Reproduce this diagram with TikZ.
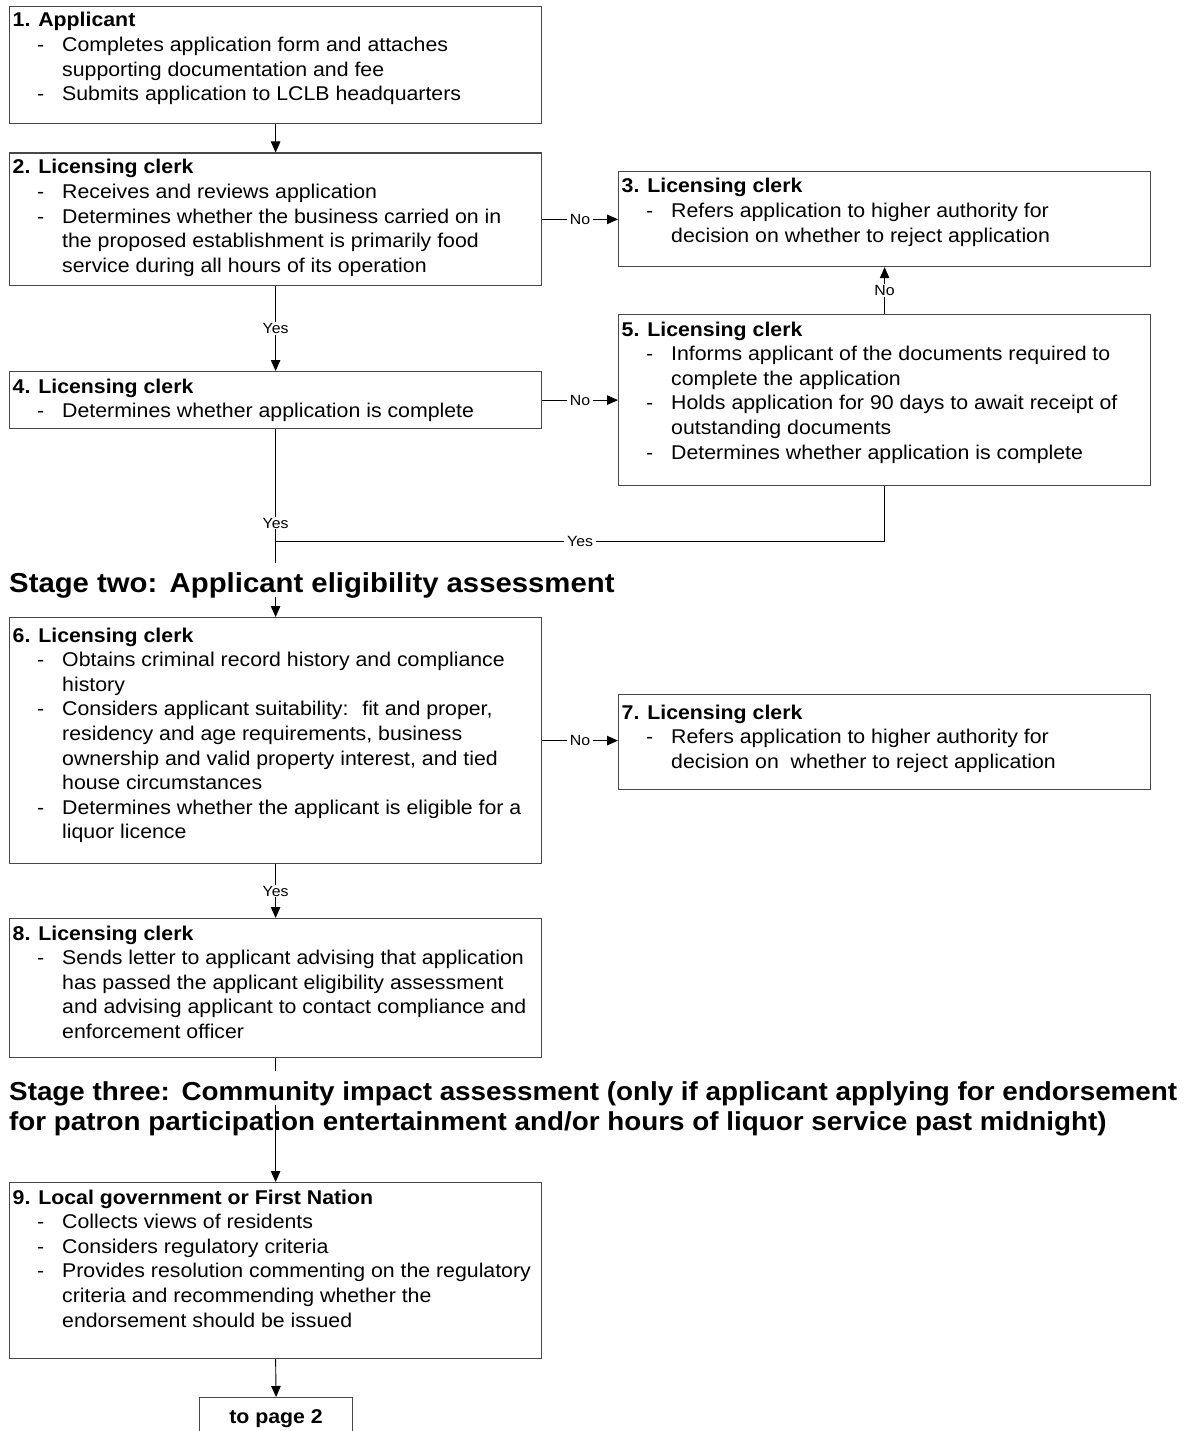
\documentclass[tikz,border=0pt]{standalone}
\usepackage{fontspec}
\setmainfont{Liberation Sans}[FakeStretch=1.07]
\usetikzlibrary{arrows.meta}

% font sizes (1 unit = 1pt)
\newcommand\bodyfnt{\fontsize{19.9}{24.6}\selectfont}
\newcommand\lblfnt{\fontsize{14.8}{16}\selectfont}
\newcommand\stagetwofnt{\fontsize{27.4}{31}\selectfont\bfseries}
\newcommand\stagethreefnt{\fontsize{26}{30}\selectfont\bfseries}

% bullet line and continuation line inside a box
\newcommand\itm[1]{\makebox[49.5pt][l]{\hspace*{24.5pt}-}#1}
\newcommand\cnt[1]{\hspace*{49.5pt}#1}
\newcommand\boxtext[1]{\parbox[t]{640pt}{\raggedright #1}}

\begin{document}
\begin{tikzpicture}[x=1pt,y=-1pt,
  stepbox/.style={draw=black!72, line width=1.2pt, anchor=north west,
    inner sep=0pt, minimum width=532pt},
  txt/.style={anchor=base west, inner sep=0pt, font=\bodyfnt},
  conn/.style={draw=black, line width=0.9pt},
  arr/.style={conn, -{Triangle[length=11pt,width=9.5pt]}},
  lbl/.style={font=\lblfnt, fill=white, inner xsep=3pt, inner ysep=1pt},
  stage/.style={anchor=base west, inner sep=0pt}]

\useasboundingbox (0,0) rectangle (1193,1431);
\fill[white] (0,0) rectangle (1193,1431);

% ---------- boxes ----------
\node[stepbox, minimum height=117pt] (b1) at (9,6) {};
\node[stepbox, minimum height=132.5pt] (b2) at (9,152.5) {};
\node[stepbox, minimum height=95pt] (b3) at (618,171) {};
\node[stepbox, minimum height=57pt] (b4) at (9,371) {};
\node[stepbox, minimum height=171pt] (b5) at (618,314) {};
\node[stepbox, minimum height=246pt] (b6) at (9,617) {};
\node[stepbox, minimum height=95pt] (b7) at (618,694) {};
\node[stepbox, minimum height=139pt] (b8) at (9,918) {};
\node[stepbox, minimum height=176pt] (b9) at (9,1182) {};
\node[stepbox, minimum width=153pt, minimum height=43pt, font=\bodyfnt\bfseries] (p2) at (199,1397) {to page 2};

% ---------- box texts ----------
\node[txt] (t1) at (12.5,27) {\boxtext{\textbf{1. Applicant}\\
  \itm{Completes application form and attaches}\\
  \cnt{supporting documentation and fee}\\
  \itm{Submits application to LCLB headquarters}}};

\node[txt] (t2) at (12.5,174) {\boxtext{\textbf{2. Licensing clerk}\\
  \itm{Receives and reviews application}\\
  \itm{Determines whether the business carried on in}\\
  \cnt{the proposed establishment is primarily food}\\
  \cnt{service during all hours of its operation}}};

\node[txt] (t3) at (621.5,193) {\boxtext{\textbf{3. Licensing clerk}\\
  \itm{Refers application to higher authority for}\\
  \cnt{decision on whether to reject application}}};

\node[txt] (t4) at (12.5,393) {\boxtext{\textbf{4. Licensing clerk}\\
  \itm{Determines whether application is complete}}};

\node[txt] (t5) at (621.5,336) {\boxtext{\textbf{5. Licensing clerk}\\
  \itm{Informs applicant of the documents required to}\\
  \cnt{complete the application}\\
  \itm{Holds application for 90 days to await receipt of}\\
  \cnt{outstanding documents}\\
  \itm{Determines whether application is complete}}};

\node[txt] (t6) at (12.5,642) {\boxtext{\textbf{6. Licensing clerk}\\
  \itm{Obtains criminal record history and compliance}\\
  \cnt{history}\\
  \itm{Considers applicant suitability:~ fit and proper,}\\
  \cnt{residency and age requirements, business}\\
  \cnt{ownership and valid property interest, and tied}\\
  \cnt{house circumstances}\\
  \itm{Determines whether the applicant is eligible for a}\\
  \cnt{liquor licence}}};

\node[txt] (t7) at (621.5,719) {\boxtext{\textbf{7. Licensing clerk}\\
  \itm{Refers application to higher authority for}\\
  \cnt{decision on~ whether to reject application}}};

\node[txt] (t8) at (12.5,940) {\boxtext{\textbf{8. Licensing clerk}\\
  \itm{Sends letter to applicant advising that application}\\
  \cnt{has passed the applicant eligibility assessment}\\
  \cnt{and advising applicant to contact compliance and}\\
  \cnt{enforcement officer}}};

\node[txt] (t9) at (12.5,1204) {\boxtext{\textbf{9. Local government or First Nation}\\
  \itm{Collects views of residents}\\
  \itm{Considers regulatory criteria}\\
  \itm{Provides resolution commenting on the regulatory}\\
  \cnt{criteria and recommending whether the}\\
  \cnt{endorsement should be issued}}};

% ---------- connectors ----------
\draw[arr] (b1.south) -- (b2.north);
\draw[arr] (b2.east) -- node[lbl]{No} (b2.east -| b3.west);
\draw[arr] (b2.south) -- node[lbl]{Yes} (b4.north);
\draw[arr] (b4.east) -- node[lbl]{No} (b4.east -| b5.west);
\draw[arr] (b5.north) -- node[lbl]{No} (b3.south);
\draw[arr] (b4.south) -- node[lbl]{Yes} (b6.north);
\coordinate (j) at (b4.south |- 0,541);
\draw[conn] (b5.south) |- node[lbl, pos=0.75]{Yes} (j);
\draw[arr] (b6.east) -- node[lbl]{No} (b6.east -| b7.west);
\draw[arr] (b6.south) -- node[lbl]{Yes} (b8.north);
\draw[arr] (b8.south) -- (b9.north);
\draw[arr] (b9.south) -- (p2.north);

% ---------- stage headings ----------
\node[stage, fill=white, font=\stagetwofnt, text height=29pt, text depth=5pt]
  (s2) at (9,592) {Stage two:\hspace{0.45em}Applicant eligibility assessment};
\node[stage, fill=white, font=\stagethreefnt, text height=29pt, text depth=5pt]
  (s3a) at (9,1100) {Stage three:\hspace{0.45em}Community impact assessment (only if applicant applying for endorsement};
\node[stage, font=\stagethreefnt]
  (s3b) at (9,1130) {for patron participation entertainment and/or hours of liquor service past midnight)};

\end{tikzpicture}
\end{document}
